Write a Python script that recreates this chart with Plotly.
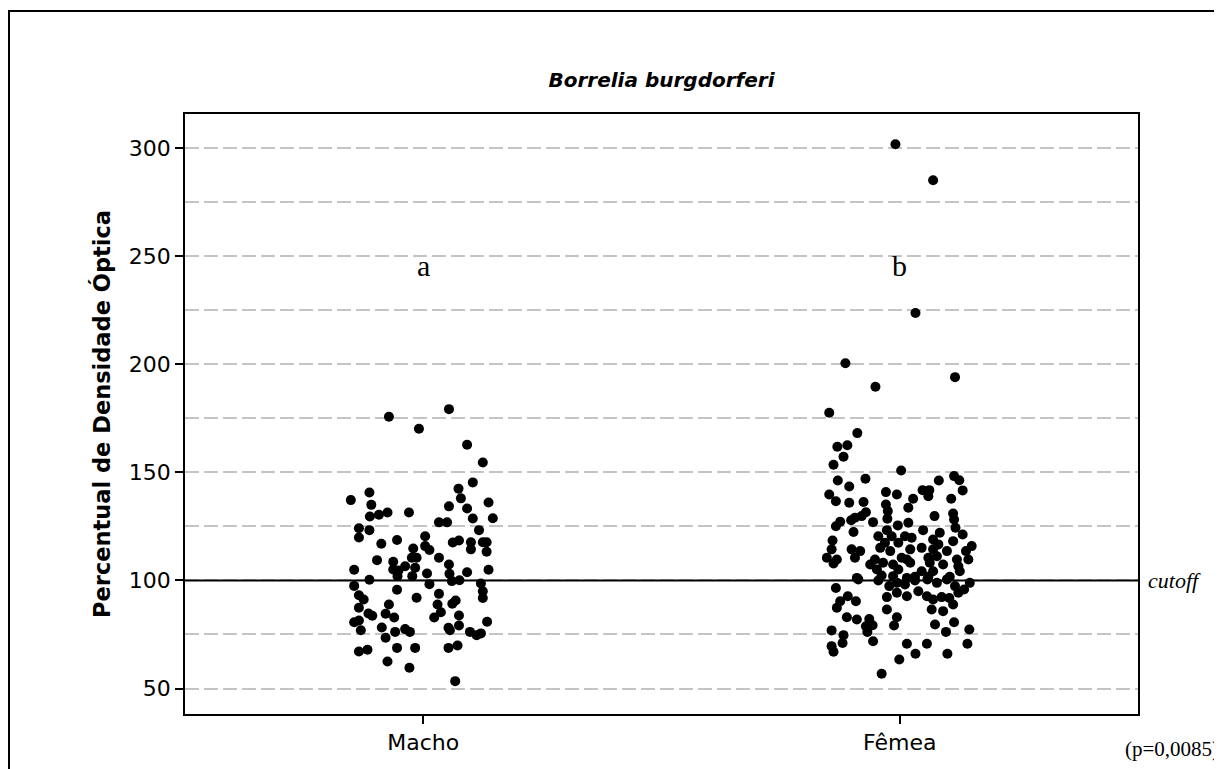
import plotly.graph_objects as go

categories = ["Macho", "Fêmea"]
y_tickvals = [50, 100, 150, 200, 250, 300]
minor_grid = [75, 125, 175, 225, 275]
group_letters = ["a", "b"]
cutoff_value = 100
p_text = "(p=0,0085)"

macho_values = [175.8, 179.3, 170.2, 162.8, 154.6, 145.4, 142.5, 140.7, 137.2, 138.0,
                136.1, 135.0, 134.3, 133.3, 131.5, 131.5, 130.4, 129.6, 128.7, 128.8,
                126.9, 126.9, 124.2, 123.3, 123.3, 119.9, 120.5, 118.7, 117.0, 117.6,
                118.5, 117.7, 117.7, 117.7, 114.8, 115.9, 114.1, 114.4, 113.3, 109.4,
                108.7, 110.5, 110.5, 110.5, 107.4, 105.0, 105.1, 104.6, 106.6, 105.9,
                103.2, 103.1, 103.8, 105.0, 102.0, 102.0, 100.3, 99.7, 100.1, 97.5,
                98.3, 98.6, 95.7, 95.0, 91.9, 93.2, 91.2, 93.8, 92.0, 89.2,
                90.7, 88.9, 88.9, 87.4, 85.3, 84.7, 83.7, 84.6, 82.9, 82.9,
                83.8, 80.7, 81.5, 77.0, 78.2, 78.1, 77.0, 79.2, 80.9, 76.2,
                77.5, 76.2, 76.2, 74.7, 75.5, 73.5, 67.1, 67.9, 68.8, 68.8,
                68.8, 69.9, 62.5, 59.6, 53.4]
macho_jitter = [-0.072, 0.054, -0.009, 0.092, 0.125, 0.104, 0.074, -0.113, -0.152, 0.079,
                0.137, -0.109, 0.054, 0.092, -0.030, -0.075, -0.093, -0.112, 0.104, 0.146,
                0.033, 0.050, -0.135, -0.113, 0.117, -0.135, 0.004, -0.055, -0.088, 0.062,
                0.075, 0.100, 0.125, 0.133, -0.021, 0.004, 0.013, 0.100, 0.133, -0.097,
                -0.063, -0.024, -0.014, 0.033, 0.054, -0.145, -0.063, -0.052, -0.038, -0.017,
                0.008, 0.055, 0.092, 0.137, -0.054, -0.023, -0.113, 0.060, 0.076, -0.145,
                0.013, 0.121, -0.055, 0.125, 0.125, -0.135, -0.125, 0.033, -0.014, 0.061,
                0.068, -0.072, 0.030, -0.135, 0.037, -0.115, -0.107, -0.079, -0.061, 0.023,
                0.075, -0.145, -0.135, -0.131, -0.087, 0.053, 0.056, 0.075, 0.134, -0.059,
                -0.038, -0.028, 0.098, 0.112, 0.121, -0.079, -0.135, -0.117, -0.055, -0.017,
                0.053, 0.072, -0.075, -0.029, 0.067]

femea_values = [301.9, 285.2, 223.8, 200.5, 189.7, 194.1, 177.6, 168.2, 161.9, 162.6,
                157.3, 153.6, 150.9, 146.3, 143.5, 147.1, 140.9, 139.8, 141.8, 141.8,
                146.3, 148.3, 146.4, 141.7, 139.8, 136.7, 136.0, 136.3, 137.8, 139.0,
                137.8, 135.2, 133.7, 131.6, 132.1, 129.8, 131.0, 129.8, 129.0, 127.9,
                127.0, 128.6, 127.2, 125.1, 125.5, 126.7, 128.2, 124.4, 122.4, 123.3,
                123.3, 122.1, 121.3, 120.5, 120.5, 120.5, 119.8, 119.0, 118.5, 117.5,
                117.5, 116.7, 118.2, 115.9, 114.4, 114.4, 113.6, 115.1, 113.6, 114.4,
                115.1, 114.4, 113.6, 113.6, 110.5, 109.7, 110.5, 109.7, 110.5, 109.7,
                110.5, 111.2, 109.7, 109.7, 107.9, 107.4, 108.2, 107.4, 108.2, 108.2,
                107.4, 106.6, 105.1, 105.1, 104.3, 104.3, 104.3, 101.2, 102.3, 102.0,
                101.2, 101.7, 101.7, 101.7, 100.5, 100.0, 97.4, 98.9, 98.1, 100.0,
                100.5, 98.9, 100.5, 97.4, 98.9, 96.5, 92.3, 94.3, 92.7, 95.0,
                92.7, 91.2, 92.3, 91.9, 94.3, 95.8, 92.7, 90.4, 90.4, 87.4,
                86.6, 86.6, 85.8, 88.9, 83.0, 81.9, 82.2, 83.0, 79.3, 78.8,
                79.2, 79.6, 80.7, 76.2, 76.9, 74.7, 76.2, 77.3, 69.6, 71.1,
                71.9, 70.7, 70.7, 70.7, 67.0, 63.4, 66.1, 66.1, 56.8]
femea_jitter = [-0.009, 0.070, 0.033, -0.114, -0.051, 0.116, -0.148, -0.089, -0.131, -0.110,
                -0.118, -0.139, 0.003, -0.130, -0.106, -0.072, -0.029, -0.006, 0.048, 0.062,
                0.082, 0.114, 0.125, 0.132, -0.148, -0.134, -0.106, -0.076, 0.028, 0.060,
                0.108, -0.029, 0.018, -0.071, -0.025, 0.073, 0.112, -0.080, -0.094, -0.102,
                -0.056, -0.026, -0.125, -0.134, -0.004, 0.018, 0.114, 0.117, -0.097, -0.027,
                0.049, 0.084, 0.132, -0.045, -0.017, 0.011, 0.025, 0.070, -0.141, -0.031,
                -0.003, 0.081, 0.112, 0.151, -0.143, -0.101, -0.083, -0.041, -0.020, 0.022,
                0.046, 0.070, 0.099, 0.139, -0.153, -0.132, -0.094, -0.052, 0.004, 0.015,
                0.060, 0.078, 0.120, 0.144, -0.139, -0.062, -0.035, -0.014, 0.022, 0.063,
                0.091, 0.123, -0.048, -0.003, 0.046, 0.070, 0.126, -0.090, -0.038, -0.014,
                0.015, 0.032, 0.060, 0.105, -0.087, -0.045, -0.022, -0.006, 0.011, 0.032,
                0.058, 0.078, 0.099, 0.116, 0.147, -0.134, -0.027, -0.006, 0.015, 0.039,
                0.057, 0.070, 0.088, 0.104, 0.123, 0.135, -0.109, -0.125, -0.092, -0.132,
                -0.027, 0.067, 0.091, 0.112, -0.111, -0.090, -0.064, -0.006, -0.057, -0.071,
                -0.012, 0.074, 0.114, -0.068, -0.143, -0.118, 0.097, 0.146, -0.143, -0.120,
                -0.056, 0.015, 0.057, 0.142, -0.139, -0.001, 0.033, 0.100, -0.038]

groups = [(macho_values, macho_jitter), (femea_values, femea_jitter)]

fig = go.Figure()
for i, (vals, jit) in enumerate(groups):
    fig.add_trace(go.Scatter(
        x=[i + j for j in jit], y=vals, mode="markers",
        marker=dict(color="black", size=10, line=dict(width=0)),
        showlegend=False, hoverinfo="y"))

grid_color = "#c4c4c4"
# the page adds an 8px body margin, so the figure is laid out 8px up/left
W, H = 1214, 761
fig.update_layout(
    width=W, height=H,
    margin=dict(l=177, r=W - 1130, t=106, b=H - 706.5),
    paper_bgcolor="white", plot_bgcolor="white",
    font=dict(family="DejaVu Sans", color="black"),
    title=dict(text="<b><i>Borrelia burgdorferi</i></b>", x=0.5, xref="paper",
               y=1 - 72 / H, yref="container", xanchor="center", yanchor="middle",
               font=dict(family="DejaVu Sans", size=20, color="black")),
    xaxis=dict(range=[-0.5, 1.5], tickvals=[0, 1], ticktext=categories,
               showgrid=False, zeroline=False, showline=True, linecolor="black",
               linewidth=1.5, mirror=True, ticks="outside", ticklen=8, tickwidth=1.5,
               tickcolor="black", tickfont=dict(size=22, family="DejaVu Sans")),
    yaxis=dict(range=[38.2, 315.9], tickvals=y_tickvals, showgrid=True,
               gridcolor=grid_color, griddash="14px,5px", gridwidth=1.5,
               zeroline=False, showline=True, linecolor="black", linewidth=1.5,
               mirror=True, ticks="outside", ticklen=8, tickwidth=1.5, tickcolor="black",
               tickfont=dict(size=22, family="DejaVu Sans"),
               title=dict(text="<b>Percentual de Densidade Óptica</b>",
                          font=dict(size=22.5, family="DejaVu Sans"), standoff=12),
               minor=dict(tickvals=minor_grid, showgrid=True, gridcolor=grid_color,
                          griddash="14px,5px", gridwidth=1.5, ticklen=0)),
)

fig.add_hline(y=cutoff_value, line=dict(color="black", width=2))
fig.add_annotation(x=1.0084, xref="paper", y=cutoff_value, yref="y", text="<i>cutoff</i>",
                   showarrow=False, xanchor="left", yanchor="middle",
                   font=dict(family="Liberation Serif", size=22, color="black"))
for i, letter in enumerate(group_letters):
    fig.add_annotation(x=i, y=245.6, text=letter, showarrow=False, yanchor="middle",
                       font=dict(family="Liberation Serif", size=30, color="black"))
fig.add_annotation(x=1.0357, xref="paper", y=-0.0575, yref="paper", text=p_text,
                   showarrow=False, xanchor="center", yanchor="middle",
                   font=dict(family="Liberation Serif", size=21, color="black"))

# outer frame
fig.add_shape(type="rect", xref="paper", yref="paper", x0=-0.1847, x1=1.12,
              y0=-0.12, y1=1.1715, line=dict(color="black", width=2), layer="below")

fig.write_html("out.html")
